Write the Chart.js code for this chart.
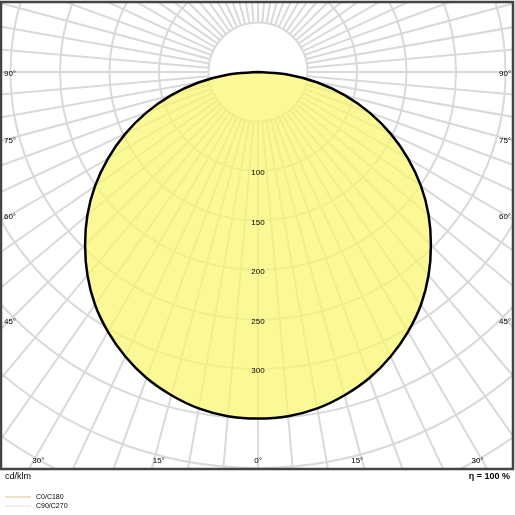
<!DOCTYPE html>
<html>
<head>
<meta charset="utf-8">
<script src="https://cdn.jsdelivr.net/npm/chart.js@4"></script>
<style>
  html, body { margin: 0; padding: 0; background: #fff; }
  #wrap { width: 515px; height: 515px; }
</style>
</head>
<body>
<div id="wrap"><canvas id="c" width="515" height="515"></canvas></div>
<script>
// gamma angles (deg) and luminous intensity (cd/klm)
const angles = [0, 5, 10, 15, 20, 25, 30, 35, 40, 45, 50, 55, 60, 65, 70, 75, 80, 85, 90];
const intensity = [350, 349, 345, 338, 329, 317, 303, 287, 268, 247, 225, 201, 175, 148, 120, 91, 61, 31, 0];
const ringValues = [50, 100, 150, 200, 250, 300, 350, 400, 450, 500, 550, 600, 650, 700];
const ringLabels = [100, 150, 200, 250, 300];
const angleLabels = [0, 15, 30, 45, 60, 75, 90];

const k = 0.99; // px per cd/klm
const cx = 258, cy = 72;
const areaLeft = 0, areaRight = 514, areaTop = 2, areaBottom = 469;

const toXY = (deg, r) => {
  const a = deg * Math.PI / 180;
  return { x: r * Math.sin(a), y: -r * Math.cos(a) };
};

// full curve: -90 .. 90
const curve = [];
for (let i = angles.length - 1; i > 0; i--) curve.push(toXY(-angles[i], intensity[i]));
for (let i = 0; i < angles.length; i++) curve.push(toXY(angles[i], intensity[i]));

const polarGrid = {
  id: 'polarGrid',
  beforeDatasetsDraw(chart) {
    const { ctx, chartArea: a, scales: { x, y } } = chart;
    const ox = x.getPixelForValue(0), oy = y.getPixelForValue(0);
    const px = x.getPixelForValue(1) - ox;
    ctx.save();
    ctx.beginPath();
    ctx.rect(a.left, a.top, a.right - a.left, a.bottom - a.top);
    ctx.clip();
    ctx.strokeStyle = '#d9d9d9';
    ctx.lineWidth = 2;
    ringValues.forEach(r => {
      ctx.beginPath();
      ctx.arc(ox, oy, r * px, 0, Math.PI * 2);
      ctx.stroke();
    });
    for (let d = 0; d < 360; d += 5) {
      const p1 = toXY(d, 50), p2 = toXY(d, 900);
      ctx.beginPath();
      ctx.moveTo(ox + p1.x * px, oy - p1.y * px);
      ctx.lineTo(ox + p2.x * px, oy - p2.y * px);
      ctx.stroke();
    }
    ctx.restore();
  },
  afterDatasetsDraw(chart) {
    const { ctx, chartArea: a, scales: { x, y } } = chart;
    const ox = x.getPixelForValue(0), oy = y.getPixelForValue(0);
    const px = x.getPixelForValue(1) - ox;
    ctx.save();
    ctx.fillStyle = '#000';
    ctx.font = '8px "Liberation Sans", Arial, sans-serif';
    ctx.textAlign = 'center';
    ctx.textBaseline = 'middle';
    ringLabels.forEach(r => ctx.fillText(String(r), ox, oy + r * px + 2));
    angleLabels.forEach(d => {
      const rad = d * Math.PI / 180;
      if (d >= 45) {
        const t = (ox - 10) / Math.sin(rad);
        const yy = oy + t * Math.cos(rad) + 2;
        ctx.fillText(d + '°', 10, yy);
        ctx.fillText(d + '°', a.right - 9, yy);
      } else {
        const dy = a.bottom - 8 - oy;
        const dx = dy * Math.tan(rad);
        ctx.fillText(d + '°', ox - dx + 5 * Math.sign(d), a.bottom - 8);
        if (d) ctx.fillText(d + '°', ox + dx - 5, a.bottom - 8);
      }
    });
    // frame
    ctx.strokeStyle = '#444';
    ctx.lineWidth = 2.5;
    ctx.strokeRect(a.left + 1, a.top, a.right - a.left - 2, a.bottom - a.top);
    // footer
    ctx.textAlign = 'left';
    ctx.font = '9px "Liberation Sans", Arial, sans-serif';
    ctx.fillText('cd/klm', 5, 477);
    ctx.textAlign = 'right';
    ctx.font = 'bold 9px "Liberation Sans", Arial, sans-serif';
    ctx.fillText('η = 100 %', 510, 477);
    ctx.textAlign = 'left';
    ctx.font = '7px "Liberation Sans", Arial, sans-serif';
    ctx.lineWidth = 1;
    ctx.strokeStyle = '#dcc490';
    ctx.beginPath(); ctx.moveTo(5, 497); ctx.lineTo(31, 497); ctx.stroke();
    ctx.strokeStyle = '#e3e3e3';
    ctx.beginPath(); ctx.moveTo(5, 506); ctx.lineTo(31, 506); ctx.stroke();
    ctx.fillText('C0/C180', 36, 497);
    ctx.fillText('C90/C270', 36, 506);
    ctx.restore();
  }
};

new Chart(document.getElementById('c'), {
  type: 'scatter',
  data: {
    datasets: [{
      label: 'C0/C180',
      data: curve,
      showLine: true,
      fill: 'shape',
      backgroundColor: 'rgba(250, 246, 110, 0.72)',
      borderColor: '#000',
      borderWidth: 2.5,
      pointRadius: 0,
      tension: 0.4
    }]
  },
  options: {
    responsive: false,
    animation: false,
    layout: { padding: { left: areaLeft, right: 515 - areaRight, top: areaTop, bottom: 515 - areaBottom } },
    scales: {
      x: { display: false, min: (areaLeft - cx) / k, max: (areaRight - cx) / k },
      y: { display: false, min: -(areaBottom - cy) / k, max: (cy - areaTop) / k }
    },
    plugins: { legend: { display: false }, tooltip: { enabled: false } }
  },
  plugins: [polarGrid]
});
</script>
</body>
</html>
